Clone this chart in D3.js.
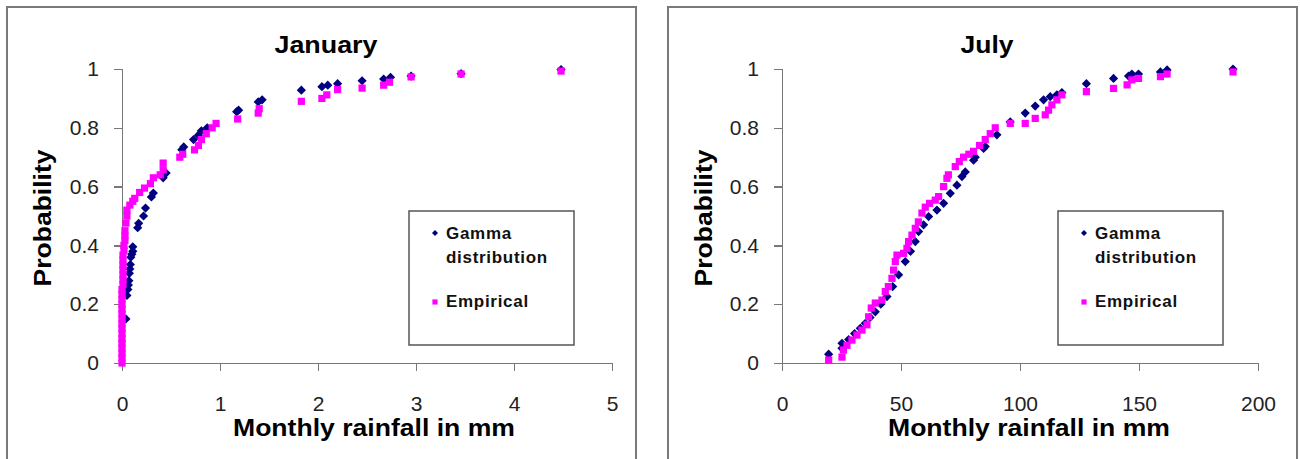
<!DOCTYPE html>
<html>
<head>
<meta charset="utf-8">
<title>Gamma vs empirical rainfall CDF</title>
<script src="https://d3js.org/d3.v7.min.js"></script>
<style>
    body { margin: 0; background: #fff; }
    svg { font-family: "Liberation Sans", Arial, sans-serif; }
    .axis path, .axis line { stroke: #777; stroke-width: 1.5; shape-rendering: crispEdges; }
    .axis text { font-size: 21px; fill: #222; }
</style>
</head>
<body>
<script>
// January values (rainfall in mm, cumulative probability)
var janGammaX = [0.04, 0.05, 0.06, 0.065, 0.07, 0.075, 0.08, 0.085, 0.09, 0.10, 0.11, 0.11, 0.16, 0.17, 0.22, 0.24, 0.30, 0.32, 0.42, 0.45, 0.61, 0.63, 0.73, 0.78, 0.81, 0.87, 1.17, 1.19, 1.39, 1.43, 1.83, 2.04, 2.10, 2.20, 2.45, 2.67, 2.74, 2.95, 3.46, 4.48];
var janGammaP = [0.15, 0.23, 0.25, 0.265, 0.28, 0.305, 0.32, 0.335, 0.36, 0.37, 0.38, 0.395, 0.46, 0.475, 0.50, 0.527, 0.565, 0.578, 0.63, 0.646, 0.725, 0.735, 0.76, 0.775, 0.79, 0.80, 0.855, 0.86, 0.888, 0.895, 0.928, 0.94, 0.945, 0.95, 0.96, 0.966, 0.972, 0.976, 0.984, 0.998];
var janEmpX = [0, 0, 0, 0, 0, 0, 0, 0, 0, 0, 0, 0, 0, 0, 0, 0, 0.01, 0.01, 0.01, 0.01, 0.01, 0.01, 0.01, 0.02, 0.02, 0.03, 0.03, 0.03, 0.04, 0.05, 0.05, 0.08, 0.11, 0.13, 0.18, 0.23, 0.29, 0.32, 0.39, 0.42, 0.42, 0.59, 0.62, 0.74, 0.78, 0.81, 0.86, 0.92, 0.96, 1.18, 1.39, 1.40, 1.83, 2.04, 2.09, 2.20, 2.45, 2.67, 2.73, 2.95, 3.46, 4.48];
var janEmpP = [0, 0.017, 0.033, 0.05, 0.067, 0.083, 0.10, 0.117, 0.133, 0.15, 0.167, 0.183, 0.20, 0.217, 0.233, 0.25, 0.267, 0.283, 0.30, 0.317, 0.333, 0.35, 0.367, 0.383, 0.40, 0.417, 0.433, 0.45, 0.476, 0.50, 0.52, 0.537, 0.55, 0.56, 0.58, 0.595, 0.61, 0.63, 0.64, 0.657, 0.68, 0.70, 0.71, 0.725, 0.74, 0.76, 0.78, 0.80, 0.815, 0.83, 0.85, 0.865, 0.89, 0.90, 0.912, 0.93, 0.935, 0.945, 0.955, 0.973, 0.983, 0.993];

// July values
var julGammaX = [19.6, 25.2, 25.2, 28, 30.5, 32.9, 35, 37, 39.2, 41.5, 44.1, 46.5, 49, 51.8, 54, 56, 57.4, 59.5, 61.6, 65.1, 67.9, 70.7, 73.5, 75.6, 77, 80.5, 81.2, 84.7, 85.4, 90.3, 95.9, 102.2, 106.4, 109.9, 112.7, 115.5, 117.6, 127.9, 139.3, 145.6, 147, 149.8, 159, 161.8, 189.5];
var julGammaP = [0.03, 0.05, 0.067, 0.08, 0.10, 0.118, 0.135, 0.155, 0.174, 0.20, 0.226, 0.26, 0.30, 0.345, 0.38, 0.413, 0.447, 0.47, 0.498, 0.52, 0.543, 0.577, 0.605, 0.634, 0.65, 0.69, 0.70, 0.73, 0.736, 0.776, 0.82, 0.85, 0.874, 0.895, 0.906, 0.912, 0.92, 0.95, 0.968, 0.976, 0.983, 0.983, 0.99, 0.997, 1.0];
var julEmpX = [19.6, 25.2, 25.8, 27.3, 29.4, 31.5, 33.6, 35.7, 36.4, 37.5, 39.2, 42, 43.4, 44.7, 46.2, 46.9, 47.6, 48.3, 51.1, 52.5, 53.2, 54.6, 56, 57.3, 58.8, 60.2, 62, 64.4, 65.8, 67.9, 69.3, 69.9, 72.8, 74.5, 76.3, 78.5, 80.5, 83, 85.4, 87.5, 89.6, 95.9, 102.2, 106.4, 110.6, 112, 113.4, 115.5, 117.6, 127.9, 139.3, 145, 147, 149.8, 159, 161.8, 189.5];
var julEmpP = [0.01, 0.02, 0.044, 0.06, 0.078, 0.095, 0.112, 0.13, 0.157, 0.187, 0.204, 0.214, 0.243, 0.26, 0.288, 0.316, 0.345, 0.367, 0.373, 0.39, 0.413, 0.435, 0.458, 0.48, 0.51, 0.53, 0.543, 0.554, 0.566, 0.60, 0.628, 0.64, 0.668, 0.685, 0.70, 0.71, 0.72, 0.74, 0.76, 0.78, 0.80, 0.815, 0.815, 0.832, 0.844, 0.86, 0.878, 0.895, 0.912, 0.923, 0.934, 0.946, 0.963, 0.968, 0.974, 0.983, 0.99];

var probTicks = [0, 0.2, 0.4, 0.6, 0.8, 1];
var janTicks = [0, 1, 2, 3, 4, 5];
var julTicks = [0, 50, 100, 150, 200];
var seriesNames = ["Gamma", "distribution", "Empirical"];

var navy = "#000080";
var pink = "#ff00ff";

var svg = d3.select("body").append("svg")
    .attr("width", 1300)
    .attr("height", 459);

function zip(xs, ys) {
    return xs.map(function (x, i) { return [x, ys[i]]; });
}

// diamond and square paths, centred on 0,0
function diamond(r) { return "M0," + (-r) + "L" + r + ",0L0," + r + "L" + (-r) + ",0Z"; }
function square(r) { return "M" + (-r) + "," + (-r) + "h" + (2 * r) + "v" + (2 * r) + "h" + (-2 * r) + "Z"; }

function panel(p) {
    // outer frame (bottom edge runs off the picture)
    svg.append("rect")
        .attr("x", p.frame[0]).attr("y", p.frame[1])
        .attr("width", p.frame[2]).attr("height", 480)
        .attr("fill", "none").attr("stroke", "#7a7a7a").attr("stroke-width", 2);

    var x = d3.scaleLinear().domain([0, p.xMax]).range([p.left, p.right]);
    var y = d3.scaleLinear().domain([0, 1]).range([363, 69]);

    svg.append("g").attr("class", "axis")
        .attr("transform", "translate(0,363)")
        .call(d3.axisBottom(x).tickValues(p.ticks).tickSize(8).tickSizeOuter(8).tickPadding(25)
            .tickFormat(d3.format("")));
    svg.append("g").attr("class", "axis")
        .attr("transform", "translate(" + p.left + ",0)")
        .call(d3.axisLeft(y).tickValues(probTicks).tickSize(8).tickSizeOuter(8).tickPadding(15)
            .tickFormat(d3.format("")));

    svg.append("g").selectAll("path")
        .data(zip(p.gx, p.gp)).enter().append("path")
        .attr("d", diamond(4.6))
        .attr("transform", function (d) { return "translate(" + x(d[0]) + "," + y(d[1]) + ")"; })
        .attr("fill", navy);

    svg.append("g").selectAll("path")
        .data(zip(p.ex, p.ep)).enter().append("path")
        .attr("d", square(3.6))
        .attr("transform", function (d) { return "translate(" + x(d[0]) + "," + y(d[1]) + ")"; })
        .attr("fill", pink);

    // titles
    svg.append("text")
        .attr("x", p.titleX).attr("y", 53)
        .attr("text-anchor", "middle")
        .attr("font-size", 24).attr("font-weight", "bold")
        .attr("textLength", p.titleW).attr("lengthAdjust", "spacingAndGlyphs")
        .text(p.title);
    svg.append("text")
        .attr("x", p.xTitleX).attr("y", 436)
        .attr("text-anchor", "middle")
        .attr("font-size", 23).attr("font-weight", "bold")
        .attr("textLength", 282).attr("lengthAdjust", "spacingAndGlyphs")
        .text("Monthly rainfall in mm");
    svg.append("text")
        .attr("transform", "translate(" + p.yTitleX + ",218) rotate(-90)")
        .attr("text-anchor", "middle")
        .attr("font-size", 24).attr("font-weight", "bold")
        .attr("textLength", 137).attr("lengthAdjust", "spacingAndGlyphs")
        .text("Probability");

    // legend
    var lg = svg.append("g").attr("transform", "translate(" + p.legend + ",211)");
    lg.append("rect")
        .attr("width", 165).attr("height", 134)
        .attr("fill", "#fff").attr("stroke", "#555").attr("stroke-width", 1.5);
    lg.append("path").attr("d", diamond(3)).attr("transform", "translate(26,22)").attr("fill", navy);
    lg.append("path").attr("d", square(2.6)).attr("transform", "translate(26,91)").attr("fill", pink);
    lg.selectAll("text").data(seriesNames).enter().append("text")
        .attr("x", 37)
        .attr("y", function (d, i) { return [28, 52, 96][i]; })
        .attr("font-size", 17).attr("font-weight", "bold")
        .attr("letter-spacing", 0.7)
        .attr("fill", "#111")
        .text(function (d) { return d; });
}

panel({
    frame: [7, 7, 629], left: 122, right: 612, xMax: 5, ticks: janTicks,
    gx: janGammaX, gp: janGammaP, ex: janEmpX, ep: janEmpP,
    title: "January", titleW: 103, titleX: 326, xTitleX: 374, yTitleX: 51, legend: 409
});
panel({
    frame: [668, 7, 629], left: 782, right: 1258, xMax: 200, ticks: julTicks,
    gx: julGammaX, gp: julGammaP, ex: julEmpX, ep: julEmpP,
    title: "July", titleW: 53, titleX: 987, xTitleX: 1029, yTitleX: 712, legend: 1058
});
</script>
</body>
</html>
